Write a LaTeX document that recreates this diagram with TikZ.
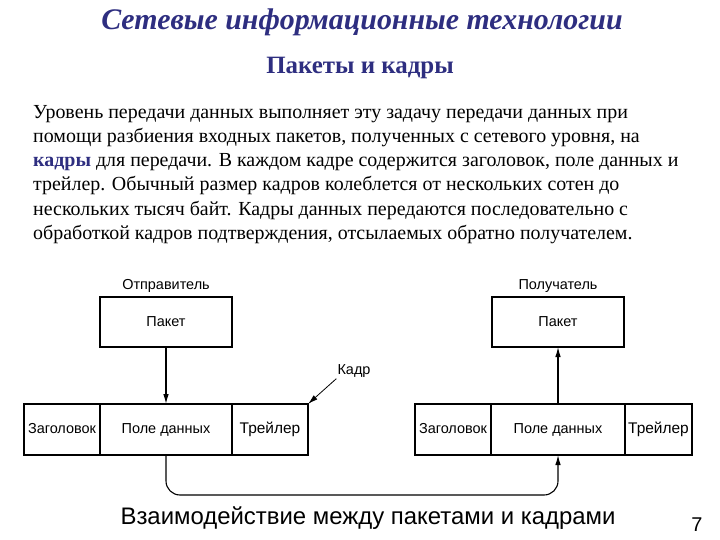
\documentclass[tikz,border=0pt]{standalone}
\usepackage{fontspec}
\setmainfont{Liberation Serif}
\setsansfont{Liberation Sans}
\usetikzlibrary{arrows.meta,positioning}
\definecolor{titleblue}{RGB}{46,46,128}

\begin{document}
\begin{tikzpicture}[x=1bp, y=-1bp,
        basic/.style   = {draw, line width=1.1bp, rectangle, inner sep=0pt, outer sep=0pt, font=\sffamily\fontsize{14.5}{16}\selectfont},
        packet/.style  = {basic, minimum width=132bp, minimum height=50bp},
        cell/.style    = {basic, minimum height=51bp, text height=11bp, text depth=3bp},
        caption/.style = {inner sep=1bp, font=\sffamily\fontsize{14.5}{16}\selectfont},
        >={Latex[length=10bp,width=5.5bp]}]

        \useasboundingbox (0,0) rectangle (720,540);

        % headings of the slide
        \node[font=\bfseries\itshape\fontsize{30}{34}\selectfont, text=titleblue] (title) at (362,22) {Сетевые информационные технологии};
        \node[font=\bfseries\fontsize{25}{28}\selectfont, text=titleblue] (subtitle) at (360,68) {Пакеты и кадры};

        % body text
        \node[anchor=north west, align=left, inner sep=0pt, font=\fontsize{20}{24.3}\selectfont] (body) at (33,105) {%
            Уровень передачи данных выполняет эту задачу передачи данных при\\
            помощи разбиения входных пакетов, полученных с сетевого уровня, на\\
            \textcolor{titleblue}{\textbf{кадры}} для передачи. В каждом кадре содержится заголовок, поле данных и\\
            трейлер. Обычный размер кадров колеблется от нескольких сотен до\\
            нескольких тысяч байт. Кадры данных передаются последовательно с\\
            обработкой кадров подтверждения, отсылаемых обратно получателем.};

        % the frame of the sender, cells side by side
        \node[cell, minimum width=76bp, anchor=north west] (lhdr) at (24,404) {Заголовок};
        \node[cell, minimum width=132bp, right=0pt of lhdr] (ldata) {Поле данных};
        \node[cell, minimum width=76bp, right=0pt of ldata, font=\sffamily\fontsize{15.5}{17}\selectfont] (ltrl) {Трейлер};

        % the frame of the receiver
        \node[cell, minimum width=76bp, anchor=north west] (rhdr) at (415,404) {Заголовок};
        \node[cell, minimum width=134bp, right=0pt of rhdr] (rdata) {Поле данных};
        \node[cell, minimum width=67bp, right=0pt of rdata, font=\sffamily\fontsize{15.5}{17}\selectfont] (rtrl) {Трейлер};

        % packets above the frames
        \node[packet, above=57bp of ldata] (lpacket) {Пакет};
        \node[packet, above=57bp of rdata] (rpacket) {Пакет};

        % small labels
        \begin{scope}[every node/.style={caption}]
            \node [above=3bp of lpacket] (sender) {Отправитель};
            \node [above=3bp of rpacket] (receiver) {Получатель};
            \node at (354,371) (framelbl) {Кадр};
        \end{scope}

        % arrows between packets and frames
        \draw[->, line width=1.1bp] (lpacket.south) -- (ldata.north);
        \draw[->, line width=1.1bp] (rdata.north) -- (rpacket.south);
        \draw[->, line width=0.8bp] (framelbl.south west) -- (ltrl.north east);

        \coordinate (link) at (360,495);
        \draw[->, line width=1.1bp, rounded corners=14bp] (ldata.south) |- (link) -| (rdata.south);

        % caption and page number
        \node[font=\sffamily\fontsize{24}{28}\selectfont] (capt) at (368,518) {Взаимодействие между пакетами и кадрами};
        \node[font=\sffamily\fontsize{20}{22}\selectfont] (pagenum) at (697,525) {7};

    \end{tikzpicture}
\end{document}
